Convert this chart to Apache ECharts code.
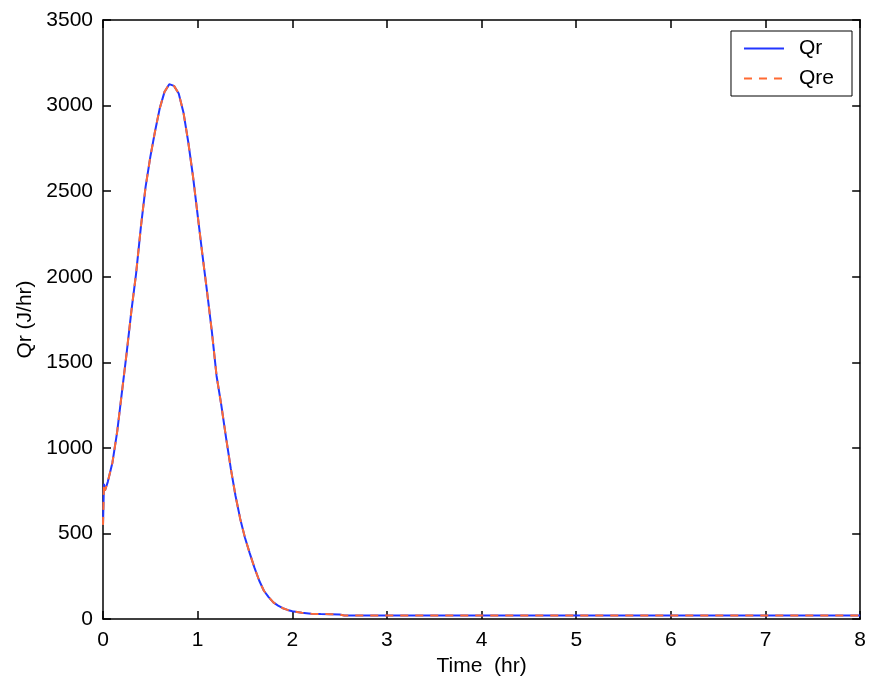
<!DOCTYPE html>
<html>
<head>
<meta charset="utf-8">
<script src="https://cdn.jsdelivr.net/npm/echarts@6/dist/echarts.min.js"></script>
<style>
html,body{margin:0;padding:0;background:#fff;}
#chart{width:869px;height:686px;}
</style>
</head>
<body>
<div id="chart"></div>
<script>
// Data
var timeHr = [0, 0.01, 0.02, 0.05, 0.1, 0.15, 0.2, 0.25, 0.3, 0.35, 0.4, 0.45, 0.5, 0.55, 0.6, 0.65, 0.7, 0.75, 0.8, 0.85, 0.9, 0.95, 1.0, 1.05, 1.1, 1.15, 1.2, 1.25, 1.3, 1.35, 1.4, 1.45, 1.5, 1.55, 1.6, 1.65, 1.7, 1.75, 1.8, 1.85, 1.9, 1.95, 2.0, 2.1, 2.2, 2.3, 2.4, 2.5, 2.55, 3, 4, 5, 6, 7, 8];
var qr = [550, 790, 750, 800, 915, 1095, 1325, 1555, 1800, 2020, 2290, 2525, 2700, 2850, 2985, 3080, 3125, 3115, 3070, 2960, 2790, 2590, 2360, 2130, 1910, 1680, 1420, 1250, 1060, 880, 720, 585, 475, 385, 300, 225, 165, 128, 97, 78, 63, 53, 45, 36, 31, 29, 28, 26, 20, 20, 20, 20, 20, 20, 20];
var qre = [550, 790, 750, 800, 915, 1095, 1325, 1555, 1800, 2020, 2290, 2525, 2700, 2850, 2985, 3080, 3125, 3115, 3070, 2960, 2790, 2590, 2360, 2130, 1910, 1680, 1420, 1250, 1060, 880, 720, 585, 475, 385, 300, 225, 165, 128, 97, 78, 63, 53, 45, 36, 31, 29, 28, 26, 20, 20, 20, 20, 20, 20, 20];
var seriesNames = ['Qr', 'Qre'];
var xTitle = 'Time  (hr)';
var yTitle = 'Qr (J/hr)';

function pairs(xs, ys){ return xs.map(function(x,i){ return [x, ys[i]]; }); }

var font = 'Liberation Sans, Arial, sans-serif';
var fs = 21;
var chart = echarts.init(document.getElementById('chart'), null, {renderer:'canvas'});
var axisLine = {show:true, onZero:false, lineStyle:{color:'#000', width:1.5}};
var plain = function(v){ return String(v); };
chart.setOption({
  backgroundColor:'#fff',
  animation:false,
  grid:{left:103, right:6, top:20, bottom:67},
  legend:{
    data:seriesNames, orient:'vertical', right:17, top:31,
    backgroundColor:'#fff', borderColor:'#000', borderWidth:1,
    padding:[7,18,7,12], itemWidth:40, itemHeight:12, itemGap:9,
    itemStyle:{opacity:0},
    textStyle:{fontFamily:font, fontSize:fs, color:'#000', padding:[0,0,0,10]}
  },
  xAxis:[{
    type:'value', min:0, max:8, interval:1, position:'bottom',
    name:xTitle, nameLocation:'middle', nameGap:37,
    nameTextStyle:{fontFamily:font, fontSize:fs, color:'#000'},
    axisLine:axisLine, axisTick:{show:true, inside:true, length:8, lineStyle:{color:'#000', width:1.5}},
    axisLabel:{fontFamily:font, fontSize:fs, color:'#000', margin:11, formatter:plain},
    splitLine:{show:false}
  },{
    type:'value', min:0, max:8, interval:1, position:'top',
    axisLine:axisLine, axisTick:{show:true, inside:true, length:8, lineStyle:{color:'#000', width:1.5}},
    axisLabel:{show:false}, splitLine:{show:false}
  }],
  yAxis:[{
    type:'value', min:0, max:3500, interval:500, position:'left',
    name:yTitle, nameLocation:'middle', nameGap:64,
    nameTextStyle:{fontFamily:font, fontSize:fs, color:'#000'},
    axisLine:axisLine, axisTick:{show:true, inside:true, length:8, lineStyle:{color:'#000', width:1.5}},
    axisLabel:{fontFamily:font, fontSize:fs, color:'#000', margin:10, formatter:plain},
    splitLine:{show:false}
  },{
    type:'value', min:0, max:3500, interval:500, position:'right',
    axisLine:axisLine, axisTick:{show:true, inside:true, length:8, lineStyle:{color:'#000', width:1.5}},
    axisLabel:{show:false}, splitLine:{show:false}
  }],
  series:[{
    name:seriesNames[0], type:'line', symbol:'none', data:pairs(timeHr, qr),
    lineStyle:{color:'#2236ff', width:2, type:'solid'}, itemStyle:{color:'#2236ff'}
  },{
    name:seriesNames[1], type:'line', symbol:'none', data:pairs(timeHr, qre),
    lineStyle:{color:'#ff6a33', width:2, type:[8,7]}, itemStyle:{color:'#ff6a33'}
  }]
});
</script>
</body>
</html>
